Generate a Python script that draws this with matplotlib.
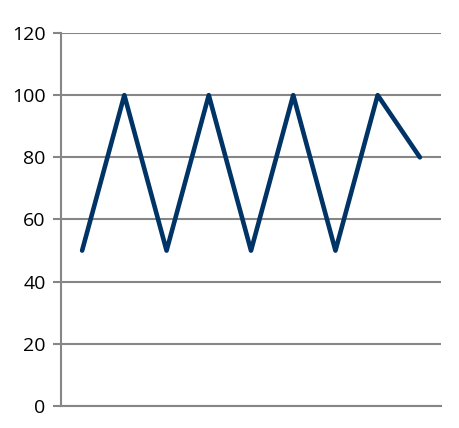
import matplotlib
matplotlib.use("Agg")
import matplotlib.pyplot as plt

categories = list(range(1, 10))
values = [50, 100, 50, 100, 50, 100, 50, 100, 80]
y_ticks = [0, 20, 40, 60, 80, 100, 120]

GRID = "#868686"
LINE = "#003366"

fig = plt.figure(figsize=(4.59, 4.28), dpi=100)
ax = fig.add_axes([0.1329, 0.0514, 0.8279, 0.8715])

x = list(range(len(categories)))
ax.plot(x, values, color=LINE, linewidth=3.3, solid_joinstyle="round",
        solid_capstyle="round", zorder=3)

ax.set_xlim(-0.5, len(categories) - 0.5)
ax.set_ylim(0, 120)
ax.set_yticks(y_ticks)
ax.set_yticklabels([str(v) for v in y_ticks], fontsize=14, family="Open Sans")
ax.set_xticks([])
ax.grid(axis="y", color=GRID, linewidth=1.5)
ax.set_axisbelow(True)
ax.tick_params(axis="y", length=6, width=1.5, color=GRID, pad=5)

for side in ["top", "right"]:
    ax.spines[side].set_visible(False)
for side in ["left", "bottom"]:
    ax.spines[side].set_color(GRID)
    ax.spines[side].set_linewidth(1.5)

fig.savefig("out.png", dpi=100)
